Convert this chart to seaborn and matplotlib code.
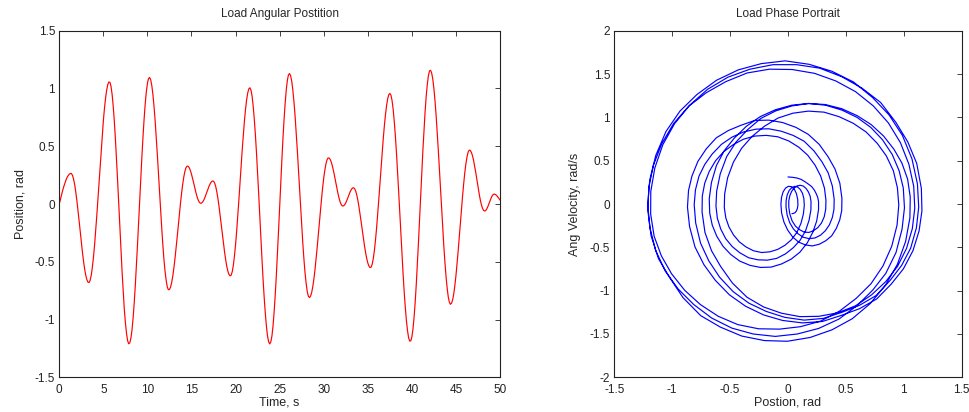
import numpy as np
import pandas as pd
import matplotlib
matplotlib.use("Agg")
import matplotlib.pyplot as plt
from matplotlib.ticker import FuncFormatter, MultipleLocator
import seaborn as sns

# load angle every 0.125 s (0 .. 50 s), one second per row
sample_step = 0.125
position = [
    0.000, 0.039, 0.077, 0.114, 0.148, 0.178, 0.205, 0.228,
    0.245, 0.257, 0.264, 0.264, 0.248, 0.215, 0.167, 0.103,
    0.028, -0.056, -0.145, -0.238, -0.328, -0.415, -0.493, -0.561,
    -0.615, -0.654, -0.676, -0.680, -0.661, -0.618, -0.550, -0.464,
    -0.360, -0.240, -0.108, 0.032, 0.177, 0.322, 0.464, 0.597,
    0.719, 0.826, 0.915, 0.984, 1.033, 1.056, 1.053, 1.016,
    0.945, 0.842, 0.711, 0.555, 0.380, 0.192, -0.005, -0.204,
    -0.399, -0.585, -0.754, -0.907, -1.024, -1.118, -1.182, -1.210,
    -1.202, -1.162, -1.090, -0.988, -0.858, -0.706, -0.537, -0.353,
    -0.159, 0.036, 0.229, 0.413, 0.584, 0.737, 0.867, 0.971,
    1.044, 1.086, 1.095, 1.074, 1.024, 0.946, 0.844, 0.722,
    0.582, 0.428, 0.268, 0.104, -0.057, -0.211, -0.354, -0.480,
    -0.582, -0.660, -0.717, -0.742, -0.740, -0.719, -0.680, -0.625,
    -0.555, -0.474, -0.384, -0.287, -0.188, -0.089, 0.006, 0.093,
    0.170, 0.234, 0.282, 0.315, 0.328, 0.326, 0.313, 0.289,
    0.258, 0.221, 0.181, 0.139, 0.100, 0.065, 0.036, 0.016,
    0.007, 0.007, 0.016, 0.031, 0.052, 0.077, 0.104, 0.131,
    0.156, 0.176, 0.191, 0.199, 0.198, 0.182, 0.151, 0.104,
    0.046, -0.022, -0.098, -0.179, -0.260, -0.340, -0.415, -0.481,
    -0.538, -0.581, -0.610, -0.622, -0.616, -0.585, -0.529, -0.448,
    -0.350, -0.234, -0.103, 0.035, 0.180, 0.325, 0.465, 0.596,
    0.715, 0.817, 0.900, 0.960, 0.996, 1.006, 0.985, 0.933,
    0.845, 0.733, 0.597, 0.440, 0.265, 0.081, -0.110, -0.301,
    -0.485, -0.659, -0.814, -0.949, -1.059, -1.143, -1.193, -1.211,
    -1.194, -1.142, -1.054, -0.933, -0.786, -0.617, -0.429, -0.230,
    -0.024, 0.183, 0.379, 0.566, 0.731, 0.873, 0.988, 1.071,
    1.118, 1.129, 1.109, 1.060, 0.982, 0.883, 0.762, 0.619,
    0.470, 0.307, 0.140, -0.028, -0.187, -0.338, -0.473, -0.591,
    -0.684, -0.755, -0.797, -0.810, -0.799, -0.769, -0.719, -0.655,
    -0.575, -0.483, -0.382, -0.275, -0.166, -0.058, 0.044, 0.140,
    0.225, 0.293, 0.347, 0.383, 0.399, 0.397, 0.383, 0.358,
    0.323, 0.281, 0.233, 0.183, 0.133, 0.087, 0.047, 0.015,
    -0.007, -0.017, -0.016, -0.007, 0.010, 0.032, 0.057, 0.083,
    0.106, 0.125, 0.137, 0.141, 0.133, 0.112, 0.077, 0.030,
    -0.026, -0.089, -0.157, -0.227, -0.297, -0.362, -0.421, -0.471,
    -0.510, -0.537, -0.550, -0.547, -0.521, -0.471, -0.400, -0.310,
    -0.205, -0.086, 0.043, 0.176, 0.311, 0.441, 0.563, 0.674,
    0.771, 0.849, 0.910, 0.945, 0.957, 0.942, 0.896, 0.820,
    0.717, 0.590, 0.445, 0.281, 0.107, -0.073, -0.254, -0.433,
    -0.602, -0.757, -0.892, -1.006, -1.093, -1.156, -1.186, -1.185,
    -1.150, -1.081, -0.979, -0.849, -0.694, -0.518, -0.328, -0.129,
    0.074, 0.273, 0.466, 0.640, 0.800, 0.933, 1.035, 1.112,
    1.152, 1.157, 1.132, 1.079, 0.997, 0.892, 0.766, 0.618,
    0.464, 0.297, 0.125, -0.046, -0.211, -0.366, -0.506, -0.628,
    -0.726, -0.803, -0.850, -0.868, -0.859, -0.829, -0.778, -0.706,
    -0.619, -0.515, -0.407, -0.288, -0.166, -0.046, 0.069, 0.175,
    0.270, 0.347, 0.406, 0.448, 0.466, 0.464, 0.447, 0.418,
    0.377, 0.326, 0.271, 0.210, 0.150, 0.092, 0.040, -0.003,
    -0.035, -0.055, -0.061, -0.056, -0.042, -0.021, 0.004, 0.030,
    0.054, 0.073, 0.084, 0.086, 0.081, 0.073, 0.061, 0.048,
    0.034,
]

time_s = np.arange(len(position)) * sample_step
# angular velocity is the time derivative of the sampled position
velocity = np.gradient(np.array(position), time_s)

df = pd.DataFrame({"time": time_s, "position": position, "velocity": velocity})

sns.set_theme(style="white")
plt.rcParams["font.family"] = ["Liberation Sans", "DejaVu Sans"]
plt.rcParams["axes.unicode_minus"] = False

fig = plt.figure(figsize=(9.7, 4.12), dpi=100)
ax1 = fig.add_axes([0.0611, 0.0842, 0.4544, 0.8413])
ax2 = fig.add_axes([0.6333, 0.0842, 0.3581, 0.8413])

sns.lineplot(data=df, x="time", y="position", color="#ff0000", linewidth=0.85,
             ax=ax1, estimator=None)
sns.lineplot(data=df, x="position", y="velocity", color="#0000ff", linewidth=0.85,
             sort=False, estimator=None, ax=ax2)

fmt = FuncFormatter(lambda v, p: f"{v:g}")

ax1.set_xlim(0, 50)
ax1.set_ylim(-1.5, 1.5)
ax1.xaxis.set_major_locator(MultipleLocator(5))
ax1.yaxis.set_major_locator(MultipleLocator(0.5))
ax1.set_title("Load Angular Postition", fontsize=8.5, pad=10)
ax1.set_xlabel("Time, s", fontsize=9, labelpad=1)
ax1.set_ylabel("Position, rad", fontsize=9, labelpad=6)

ax2.set_xlim(-1.5, 1.5)
ax2.set_ylim(-2, 2)
ax2.xaxis.set_major_locator(MultipleLocator(0.5))
ax2.yaxis.set_major_locator(MultipleLocator(0.5))
ax2.set_title("Load Phase Portrait", fontsize=8.5, pad=10)
ax2.set_xlabel("Postion, rad", fontsize=9, labelpad=1)
ax2.set_ylabel("Ang Velocity, rad/s", fontsize=9, labelpad=6)

for ax in (ax1, ax2):
    ax.xaxis.set_major_formatter(fmt)
    ax.yaxis.set_major_formatter(fmt)
    ax.tick_params(direction="in", top=True, right=True, length=3.5, width=0.6,
                   labelsize=8.5, colors="#222222")
    ax.tick_params(axis="x", pad=4.5)
    ax.tick_params(axis="y", pad=3)
    for sp in ax.spines.values():
        sp.set_visible(True)
        sp.set_color("#222222")
        sp.set_linewidth(0.8)

fig.savefig("out.png", dpi=100)
